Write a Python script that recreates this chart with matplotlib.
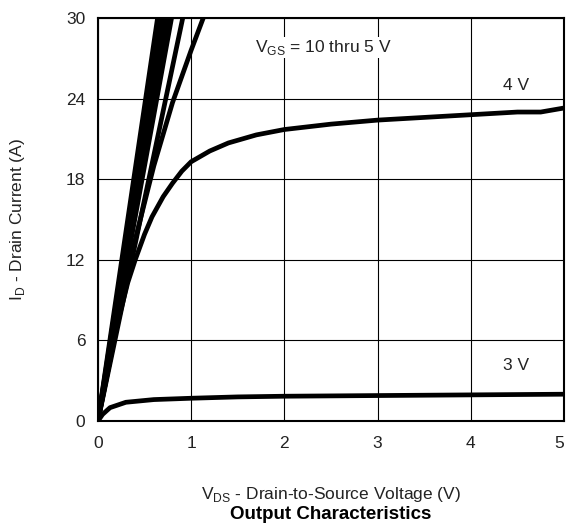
import matplotlib
matplotlib.use('Agg')
import matplotlib.pyplot as plt

plt.rcParams['font.family'] = ['Liberation Sans', 'DejaVu Sans']

# steep curves, VGS = 10 thru 6 V (drain voltage where they reach 30 A)
vds_steep_ends = [0.64, 0.67, 0.70, 0.73, 0.76, 0.79, 0.91]
id_top = 30

# VGS = 5 V
vds_5v = [0, 0.2, 0.4, 0.6, 0.8, 1.0, 1.13]
id_5v = [0, 7.0, 13.5, 19.0, 23.7, 27.6, 30.0]

# VGS = 4 V
vds_4v = [0, 0.1, 0.2, 0.32, 0.4, 0.5, 0.58, 0.7, 0.8, 0.9, 1.0, 1.2, 1.4, 1.7,
          2.0, 2.5, 3.0, 3.5, 4.0, 4.5, 4.75, 5.0]
id_4v = [0, 3.5, 7.0, 10.3, 12.0, 13.9, 15.2, 16.7, 17.7, 18.6, 19.3, 20.1, 20.7, 21.3,
         21.7, 22.1, 22.4, 22.6, 22.8, 23.0, 23.0, 23.3]

# VGS = 3 V
vds_3v = [0, 0.05, 0.13, 0.3, 0.6, 1.0, 1.5, 2.0, 3.0, 4.0, 5.0]
id_3v = [0, 0.5, 1.0, 1.4, 1.6, 1.7, 1.8, 1.85, 1.9, 1.95, 2.0]

xticks = [0, 1, 2, 3, 4, 5]
yticks = [0, 6, 12, 18, 24, 30]

fs = 12.5
txt = '#222222'

fig = plt.figure(figsize=(5.66, 5.29), dpi=100)
ax = fig.add_axes([0.173, 0.204, 0.8235, 0.762])

lw = 3.4
for v_end in vds_steep_ends:
    ax.plot([0, v_end], [0, id_top], color='black', lw=lw, solid_capstyle='butt')
ax.plot(vds_5v, id_5v, color='black', lw=lw)
ax.plot(vds_4v, id_4v, color='black', lw=lw)
ax.plot(vds_3v, id_3v, color='black', lw=lw)

ax.set_xlim(0, 5)
ax.set_ylim(0, 30)
ax.set_xticks(xticks)
ax.set_yticks(yticks)
ax.tick_params(length=0, labelsize=fs, colors=txt)
ax.tick_params(axis='x', pad=11)
ax.tick_params(axis='y', pad=9)
ax.get_xticklabels()[-1].set_horizontalalignment('right')
ax.grid(True, color='black', lw=0.8)
ax.set_axisbelow(True)
for s in ax.spines.values():
    s.set_linewidth(1.5)

ax.text(2.42, 27.8, r'V$_{\mathregular{GS}}$ = 10 thru 5 V', ha='center', va='center', fontsize=fs, color=txt,
        bbox=dict(facecolor='white', edgecolor='none', pad=1))
ax.text(4.49, 25.0, '4 V', ha='center', va='center', fontsize=fs, color=txt)
ax.text(4.49, 4.1, '3 V', ha='center', va='center', fontsize=fs, color=txt)

ax.set_ylabel(r'I$_{\mathregular{D}}$ - Drain Current (A)', fontsize=fs, color=txt, labelpad=28)
ax.set_xlabel(r'V$_{\mathregular{DS}}$ - Drain-to-Source Voltage (V)', fontsize=fs, color=txt, labelpad=24)
fig.text(0.5 * (0.173 + 0.9965), 0.028, 'Output Characteristics', ha='center', va='center',
         fontsize=13.5, fontweight='bold')

fig.savefig('out.png', dpi=100)
